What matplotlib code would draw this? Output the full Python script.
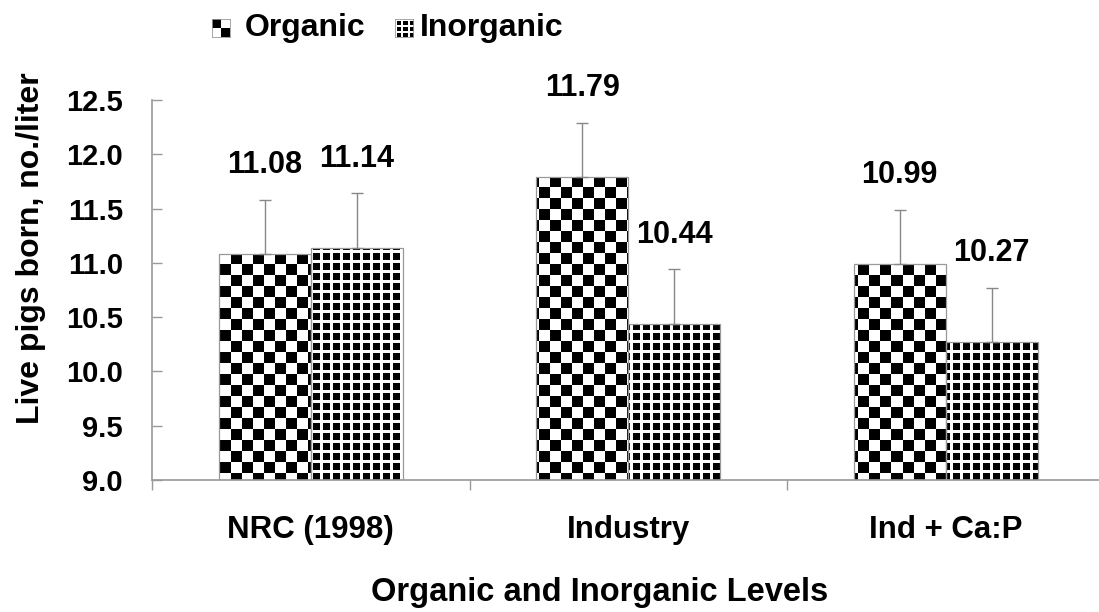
import matplotlib.pyplot as plt
import numpy as np

plt.rcParams['font.family'] = ['Liberation Sans', 'DejaVu Sans']
plt.rcParams['font.weight'] = 'bold'

# ---------------- data ----------------
categories = ['NRC (1998)', 'Industry', 'Ind + Ca:P']
organic = np.array([11.08, 11.79, 10.99])
inorganic = np.array([11.14, 10.44, 10.27])
organic_se = np.array([0.5, 0.5, 0.5])
inorganic_se = np.array([0.5, 0.5, 0.5])
series_names = ['Organic', 'Inorganic']

base = 9.0
grey = '#999999'

W, H = 1099, 612
fig = plt.figure(figsize=(W / 100, H / 100), dpi=100)
ax = fig.add_axes([152 / W, 1 - 480 / H, (1104.5 - 152) / W, (480 - 100) / H])

x = np.arange(len(categories))
bw = 0.29

ax.set_xlim(-0.5, len(categories) - 0.5)
ax.set_ylim(base, 12.5)

# outlines of the bars (patterns are filled in below)
b_org = ax.bar(x - bw / 2, organic - base, bw, bottom=base, facecolor='none',
               edgecolor=grey, linewidth=0.9, zorder=3)
b_inorg = ax.bar(x + bw / 2, inorganic - base, bw, bottom=base, facecolor='none',
                 edgecolor=grey, linewidth=0.9, zorder=3)


def checker(C, R):
    return (((C // 11) + (R // 11)) % 2).astype(float)


def grid(C, R):
    return (((C % 10) < 2.5) | ((R % 10) < 2.5)).astype(float)


def fill_pattern(bars, func):
    for rect in bars:
        x0, y0 = rect.get_x(), rect.get_y()
        x1, y1 = x0 + rect.get_width(), y0 + rect.get_height()
        (px0, py0), (px1, py1) = ax.transData.transform([(x0, y0), (x1, y1)])
        ix0, ix1 = int(round(px0)), int(round(px1))
        iy0, iy1 = int(round(py0)), int(round(py1))
        cols = np.arange(ix0, ix1)
        rows = np.arange(H - iy1, H - iy0)
        C, R = np.meshgrid(cols, rows)
        img = func(C, R)
        (dx0, dy0), (dx1, dy1) = ax.transData.inverted().transform([(ix0, iy0), (ix1, iy1)])
        ax.imshow(img, extent=(dx0, dx1, dy0, dy1), cmap='gray', vmin=0, vmax=1,
                  interpolation='nearest', aspect='auto', zorder=2)


fill_pattern(b_org, checker)
fill_pattern(b_inorg, grid)
ax.set_xlim(-0.5, len(categories) - 0.5)
ax.set_ylim(base, 12.5)

# error bars (upper only)
ax.errorbar(x - bw / 2, organic, yerr=[np.zeros(3), organic_se], fmt='none',
            ecolor='#888888', elinewidth=1, capsize=4, capthick=1, zorder=4)
ax.errorbar(x + bw / 2, inorganic, yerr=[np.zeros(3), inorganic_se], fmt='none',
            ecolor='#888888', elinewidth=1, capsize=4, capthick=1, zorder=4)

for xs, vals in [(x - bw / 2, organic), (x + bw / 2, inorganic)]:
    for xi, v in zip(xs, vals):
        ax.annotate(f'{v:.2f}', (xi, v), xytext=(0, 64), textcoords='offset points',
                    ha='center', va='center', fontsize=22, fontweight='bold')

# axes styling
for s in ['top', 'right']:
    ax.spines[s].set_visible(False)
for s in ['left', 'bottom']:
    ax.spines[s].set_color(grey)
    ax.spines[s].set_linewidth(1.2)

yt = np.arange(9.0, 12.51, 0.5)
ax.set_yticks(yt)
ax.set_yticklabels([f'{t:.1f}' for t in yt])
ax.tick_params(axis='y', direction='in', length=7, width=1, color=grey,
               labelsize=21, pad=21)
ax.set_xticks(x)
ax.set_xticklabels(categories)
ax.set_xticks(np.arange(-0.5, len(categories), 1.0), minor=True)
ax.tick_params(axis='x', which='major', length=0, labelsize=22.5, pad=25)
ax.tick_params(axis='x', which='minor', direction='out', length=7, width=1, color=grey)

ax.set_xlabel('Organic and Inorganic Levels', fontsize=23.5, fontweight='bold', va='center')
ax.xaxis.set_label_coords((600 - 152) / 952.5, -(592 - 480) / 380)
ax.set_ylabel('Live pigs born, no./liter', fontsize=23, fontweight='bold', va='center')
ax.yaxis.set_label_coords((31 - 152) / 952.5, (480 - 248) / 380)

# legend drawn by hand with small pattern swatches
legend_pos = [(212, 245), (395, 420)]
sc, sr = np.meshgrid(np.arange(18), np.arange(18))
swatches = [checker(sc * 11 // 9, sr * 11 // 9),
            ((sc % 6) < 2).astype(float).clip(0, 1) + ((sr % 6) < 2)]
for (mx, tx), sw, name in zip(legend_pos, swatches, series_names):
    lax = fig.add_axes([mx / W, 1 - 37 / H, 18 / W, 18 / H])
    lax.imshow(sw.clip(0, 1), cmap='gray', vmin=0, vmax=1, interpolation='nearest',
               aspect='auto')
    lax.set_xticks([])
    lax.set_yticks([])
    for s in lax.spines.values():
        s.set_color(grey)
        s.set_linewidth(0.6)
    fig.text(tx / W, 1 - 28 / H, name, fontsize=23, fontweight='bold',
             ha='left', va='center')

plt.savefig('out.png', dpi=100)
